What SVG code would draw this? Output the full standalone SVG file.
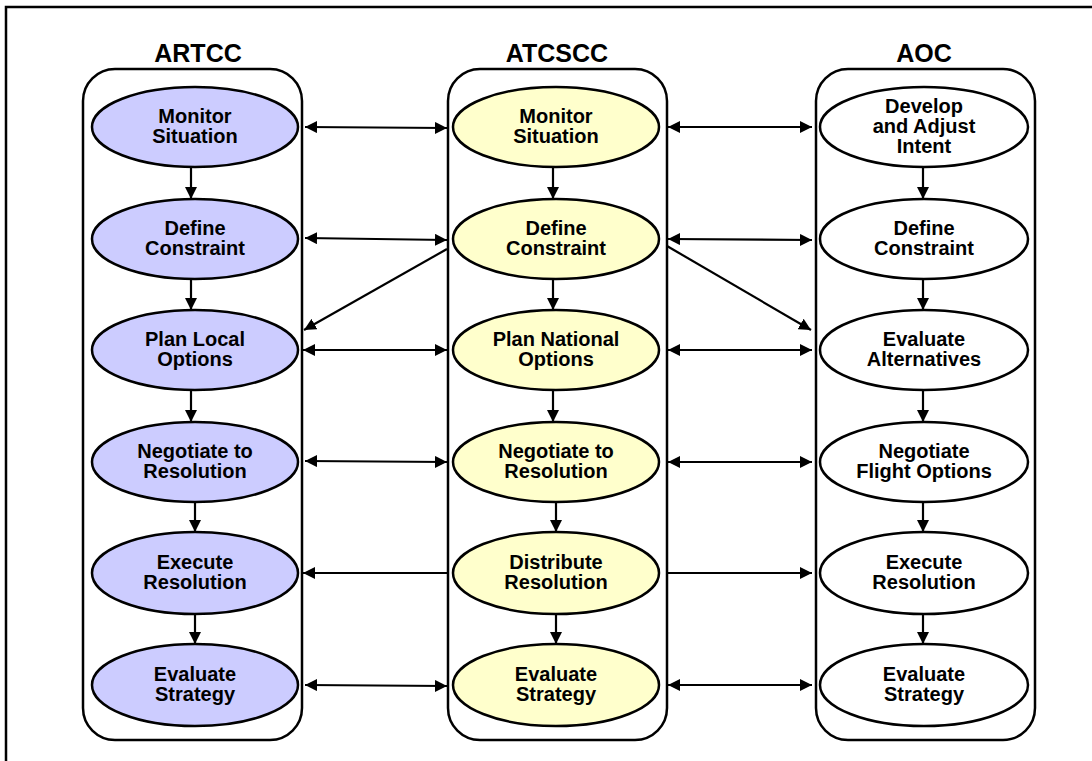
<svg xmlns="http://www.w3.org/2000/svg" width="1092" height="761" viewBox="0 0 1092 761">
  <style>
    .frame { fill: none; stroke: #000; stroke-width: 2.5; }
    .lane { fill: none; stroke: #000; stroke-width: 2.5; }
    .title { font-family: "Liberation Sans", Arial, sans-serif; font-weight: bold; font-size: 25px; text-anchor: middle; fill: #000; }
    .node ellipse { stroke: #000; stroke-width: 2.5; }
    .artcc ellipse { fill: #ccccff; }
    .atcscc ellipse { fill: #ffffcc; }
    .aoc ellipse { fill: #ffffff; }
    .node text { font-family: "Liberation Sans", Arial, sans-serif; font-weight: bold; font-size: 20px; text-anchor: middle; fill: #000; }
    .edge { stroke: #000; stroke-width: 2.2; fill: none; }
  </style>
  <defs>
    <marker id="head" viewBox="0 0 12 12" refX="12" refY="6" markerWidth="12" markerHeight="12" markerUnits="userSpaceOnUse" orient="auto-start-reverse">
      <path d="M0,0 L12,6 L0,12 Z" fill="#000"/>
    </marker>
  </defs>

  <rect width="1092" height="761" fill="#fff"/>
  <!-- outer frame (right and bottom edges run off the page) -->
  <rect class="frame" x="6" y="7" width="1100" height="800"/>

  <!-- swimlanes -->
  <g id="lane-artcc">
    <text class="title" x="198" y="62">ARTCC</text>
    <rect class="lane" x="83" y="69" width="219" height="671" rx="32"/>
  </g>
  <g id="lane-atcscc">
    <text class="title" x="557" y="62">ATCSCC</text>
    <rect class="lane" x="448" y="69" width="219" height="671" rx="32"/>
  </g>
  <g id="lane-aoc">
    <text class="title" x="924" y="62">AOC</text>
    <rect class="lane" x="816" y="69" width="219" height="671" rx="32"/>
  </g>

  <!-- ARTCC nodes -->
  <g id="artcc-monitor" class="node artcc"><ellipse cx="195" cy="127" rx="103" ry="40"/><text x="195" y="123">Monitor</text><text x="195" y="143">Situation</text></g>
  <g id="artcc-define" class="node artcc"><ellipse cx="195" cy="239" rx="103" ry="40"/><text x="195" y="235">Define</text><text x="195" y="255">Constraint</text></g>
  <g id="artcc-plan" class="node artcc"><ellipse cx="195" cy="350" rx="103" ry="40"/><text x="195" y="346">Plan Local</text><text x="195" y="366">Options</text></g>
  <g id="artcc-negotiate" class="node artcc"><ellipse cx="195" cy="462" rx="103" ry="40"/><text x="195" y="458">Negotiate to</text><text x="195" y="478">Resolution</text></g>
  <g id="artcc-execute" class="node artcc"><ellipse cx="195" cy="573" rx="103" ry="41"/><text x="195" y="569">Execute</text><text x="195" y="589">Resolution</text></g>
  <g id="artcc-evaluate" class="node artcc"><ellipse cx="195" cy="685" rx="103" ry="41"/><text x="195" y="681">Evaluate</text><text x="195" y="701">Strategy</text></g>

  <!-- ATCSCC nodes -->
  <g id="atcscc-monitor" class="node atcscc"><ellipse cx="556" cy="127" rx="103" ry="40"/><text x="556" y="123">Monitor</text><text x="556" y="143">Situation</text></g>
  <g id="atcscc-define" class="node atcscc"><ellipse cx="556" cy="239" rx="103" ry="40"/><text x="556" y="235">Define</text><text x="556" y="255">Constraint</text></g>
  <g id="atcscc-plan" class="node atcscc"><ellipse cx="556" cy="350" rx="103" ry="40"/><text x="556" y="346">Plan National</text><text x="556" y="366">Options</text></g>
  <g id="atcscc-negotiate" class="node atcscc"><ellipse cx="556" cy="462" rx="103" ry="40"/><text x="556" y="458">Negotiate to</text><text x="556" y="478">Resolution</text></g>
  <g id="atcscc-distribute" class="node atcscc"><ellipse cx="556" cy="573" rx="103" ry="41"/><text x="556" y="569">Distribute</text><text x="556" y="589">Resolution</text></g>
  <g id="atcscc-evaluate" class="node atcscc"><ellipse cx="556" cy="685" rx="103" ry="41"/><text x="556" y="681">Evaluate</text><text x="556" y="701">Strategy</text></g>

  <!-- AOC nodes -->
  <g id="aoc-intent" class="node aoc"><ellipse cx="924" cy="127" rx="104" ry="40"/><text x="924" y="113">Develop</text><text x="924" y="133">and Adjust</text><text x="924" y="153">Intent</text></g>
  <g id="aoc-define" class="node aoc"><ellipse cx="924" cy="239" rx="104" ry="40"/><text x="924" y="235">Define</text><text x="924" y="255">Constraint</text></g>
  <g id="aoc-alternatives" class="node aoc"><ellipse cx="924" cy="350" rx="104" ry="40"/><text x="924" y="346">Evaluate</text><text x="924" y="366">Alternatives</text></g>
  <g id="aoc-negotiate" class="node aoc"><ellipse cx="924" cy="462" rx="104" ry="40"/><text x="924" y="458">Negotiate</text><text x="924" y="478">Flight Options</text></g>
  <g id="aoc-execute" class="node aoc"><ellipse cx="924" cy="573" rx="104" ry="41"/><text x="924" y="569">Execute</text><text x="924" y="589">Resolution</text></g>
  <g id="aoc-evaluate" class="node aoc"><ellipse cx="924" cy="685" rx="104" ry="41"/><text x="924" y="681">Evaluate</text><text x="924" y="701">Strategy</text></g>

  <g id="connectors">
    <!-- flow within each lane -->
    <line class="edge" x1="191" y1="167" x2="191" y2="199" marker-end="url(#head)"/>
    <line class="edge" x1="191" y1="279" x2="191" y2="310" marker-end="url(#head)"/>
    <line class="edge" x1="191" y1="390" x2="191" y2="422" marker-end="url(#head)"/>
    <line class="edge" x1="195" y1="502" x2="195" y2="532" marker-end="url(#head)"/>
    <line class="edge" x1="195" y1="614" x2="195" y2="644" marker-end="url(#head)"/>

    <line class="edge" x1="553" y1="167" x2="553" y2="199" marker-end="url(#head)"/>
    <line class="edge" x1="553" y1="279" x2="553" y2="310" marker-end="url(#head)"/>
    <line class="edge" x1="553" y1="390" x2="553" y2="422" marker-end="url(#head)"/>
    <line class="edge" x1="556" y1="502" x2="556" y2="532" marker-end="url(#head)"/>
    <line class="edge" x1="556" y1="614" x2="556" y2="644" marker-end="url(#head)"/>

    <line class="edge" x1="923" y1="167" x2="923" y2="199" marker-end="url(#head)"/>
    <line class="edge" x1="923" y1="279" x2="923" y2="310" marker-end="url(#head)"/>
    <line class="edge" x1="923" y1="390" x2="923" y2="422" marker-end="url(#head)"/>
    <line class="edge" x1="923" y1="502" x2="923" y2="532" marker-end="url(#head)"/>
    <line class="edge" x1="923" y1="614" x2="923" y2="644" marker-end="url(#head)"/>

    <!-- exchanges ARTCC <-> ATCSCC -->
    <line class="edge" x1="305" y1="127" x2="447" y2="128" marker-start="url(#head)" marker-end="url(#head)"/>
    <line class="edge" x1="305" y1="238" x2="447" y2="240" marker-start="url(#head)" marker-end="url(#head)"/>
    <line class="edge" x1="303" y1="350" x2="447" y2="350" marker-start="url(#head)" marker-end="url(#head)"/>
    <line class="edge" x1="305" y1="461" x2="447" y2="462" marker-start="url(#head)" marker-end="url(#head)"/>
    <line class="edge" x1="447" y1="573" x2="303" y2="573" marker-end="url(#head)"/>
    <line class="edge" x1="305" y1="685" x2="447" y2="686" marker-start="url(#head)" marker-end="url(#head)"/>
    <line class="edge" x1="447" y1="249" x2="304" y2="330" marker-end="url(#head)"/>

    <!-- exchanges ATCSCC <-> AOC -->
    <line class="edge" x1="668" y1="127" x2="812" y2="127" marker-start="url(#head)" marker-end="url(#head)"/>
    <line class="edge" x1="668" y1="239" x2="812" y2="240" marker-start="url(#head)" marker-end="url(#head)"/>
    <line class="edge" x1="668" y1="350" x2="812" y2="350" marker-start="url(#head)" marker-end="url(#head)"/>
    <line class="edge" x1="668" y1="462" x2="812" y2="462" marker-start="url(#head)" marker-end="url(#head)"/>
    <line class="edge" x1="668" y1="573" x2="812" y2="573" marker-end="url(#head)"/>
    <line class="edge" x1="668" y1="685" x2="812" y2="685" marker-start="url(#head)" marker-end="url(#head)"/>
    <line class="edge" x1="667" y1="246" x2="811" y2="330" marker-end="url(#head)"/>
  </g>
</svg>
